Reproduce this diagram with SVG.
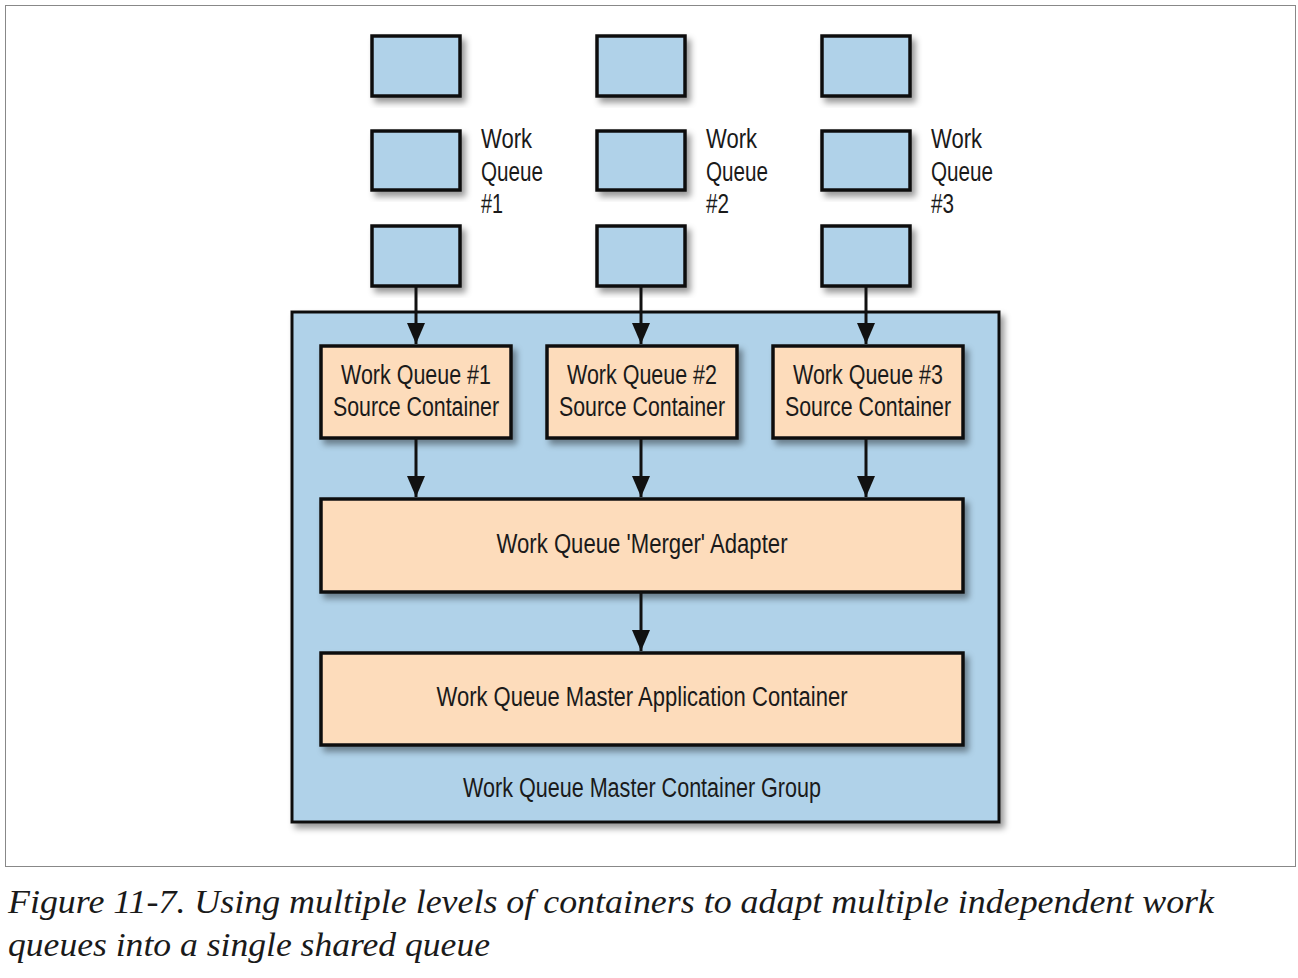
<svg xmlns="http://www.w3.org/2000/svg" width="1298" height="978" viewBox="0 0 1298 978">
<style>
.q{fill:#b0d2e9;stroke:#111;stroke-width:3.5;filter:url(#sh)}
.g{fill:#b0d2e9;stroke:#111;stroke-width:3;filter:url(#sh)}
.c{fill:#fddcbb;stroke:#111;stroke-width:3.5;filter:url(#sh)}
.t{font-family:"Liberation Sans Narrow","Liberation Sans",Arial,sans-serif;font-size:27px;fill:#1a1a1a}
.m{text-anchor:middle}
.cap{font-family:"Liberation Serif","Times New Roman",serif;font-style:italic;font-size:34px;fill:#1a1a1a}
.a{stroke:#111;stroke-width:3;fill:none;marker-end:url(#ah)}
</style>
<defs>
<filter id="sh" x="-10%" y="-10%" width="130%" height="130%">
<feDropShadow dx="4" dy="5" stdDeviation="3" flood-color="#000" flood-opacity="0.4"/>
</filter>
<marker id="ah" markerWidth="7" markerHeight="6" refX="7" refY="3" orient="auto" markerUnits="strokeWidth">
<path d="M0,0 L7,3 L0,6 Z" fill="#111"/>
</marker>
</defs>
<rect x="5.5" y="5.5" width="1290" height="861" fill="#fff" stroke="#888" stroke-width="1"/>
<g id="group">
<rect class="g" x="292" y="312" width="707" height="510"/>
<text class="t m" x="642" y="797" textLength="358" lengthAdjust="spacingAndGlyphs">Work Queue Master Container Group</text>
</g>
<g id="queue1">
<rect class="q" x="372" y="36" width="88" height="60"/>
<rect class="q" x="372" y="131" width="88" height="59"/>
<rect class="q" x="372" y="226" width="88" height="60"/>
<text class="t" x="481" y="148" textLength="51" lengthAdjust="spacingAndGlyphs">Work</text>
<text class="t" x="481" y="181" textLength="62" lengthAdjust="spacingAndGlyphs">Queue</text>
<text class="t" x="481" y="213" textLength="22" lengthAdjust="spacingAndGlyphs">#1</text>
</g>
<g id="queue2">
<rect class="q" x="597" y="36" width="88" height="60"/>
<rect class="q" x="597" y="131" width="88" height="59"/>
<rect class="q" x="597" y="226" width="88" height="60"/>
<text class="t" x="706" y="148" textLength="51" lengthAdjust="spacingAndGlyphs">Work</text>
<text class="t" x="706" y="181" textLength="62" lengthAdjust="spacingAndGlyphs">Queue</text>
<text class="t" x="706" y="213" textLength="23" lengthAdjust="spacingAndGlyphs">#2</text>
</g>
<g id="queue3">
<rect class="q" x="822" y="36" width="88" height="60"/>
<rect class="q" x="822" y="131" width="88" height="59"/>
<rect class="q" x="822" y="226" width="88" height="60"/>
<text class="t" x="931" y="148" textLength="51" lengthAdjust="spacingAndGlyphs">Work</text>
<text class="t" x="931" y="181" textLength="62" lengthAdjust="spacingAndGlyphs">Queue</text>
<text class="t" x="931" y="213" textLength="23" lengthAdjust="spacingAndGlyphs">#3</text>
</g>
<g id="source1">
<rect class="c" x="321" y="346" width="190" height="92"/>
<text class="t m" x="416" y="384" textLength="150" lengthAdjust="spacingAndGlyphs">Work Queue #1</text>
<text class="t m" x="416" y="416" textLength="166" lengthAdjust="spacingAndGlyphs">Source Container</text>
</g>
<g id="source2">
<rect class="c" x="547" y="346" width="190" height="92"/>
<text class="t m" x="642" y="384" textLength="150" lengthAdjust="spacingAndGlyphs">Work Queue #2</text>
<text class="t m" x="642" y="416" textLength="166" lengthAdjust="spacingAndGlyphs">Source Container</text>
</g>
<g id="source3">
<rect class="c" x="773" y="346" width="190" height="92"/>
<text class="t m" x="868" y="384" textLength="150" lengthAdjust="spacingAndGlyphs">Work Queue #3</text>
<text class="t m" x="868" y="416" textLength="166" lengthAdjust="spacingAndGlyphs">Source Container</text>
</g>
<g id="merger">
<rect class="c" x="321" y="499" width="642" height="93"/>
<text class="t m" x="642" y="553" textLength="291" lengthAdjust="spacingAndGlyphs">Work Queue 'Merger' Adapter</text>
</g>
<g id="master">
<rect class="c" x="321" y="653" width="642" height="92"/>
<text class="t m" x="642" y="706" textLength="411" lengthAdjust="spacingAndGlyphs">Work Queue Master Application Container</text>
</g>
<g id="connectors">
<line class="a" x1="416" y1="286" x2="416" y2="344"/>
<line class="a" x1="641" y1="286" x2="641" y2="344"/>
<line class="a" x1="866" y1="286" x2="866" y2="344"/>
<line class="a" x1="416" y1="438" x2="416" y2="497"/>
<line class="a" x1="641" y1="438" x2="641" y2="497"/>
<line class="a" x1="866" y1="438" x2="866" y2="497"/>
<line class="a" x1="641" y1="592" x2="641" y2="651"/>
</g>
<text class="cap" x="8" y="913" textLength="1206" lengthAdjust="spacingAndGlyphs">Figure 11-7. Using multiple levels of containers to adapt multiple independent work</text>
<text class="cap" x="8" y="956" textLength="482" lengthAdjust="spacingAndGlyphs">queues into a single shared queue</text>
</svg>
